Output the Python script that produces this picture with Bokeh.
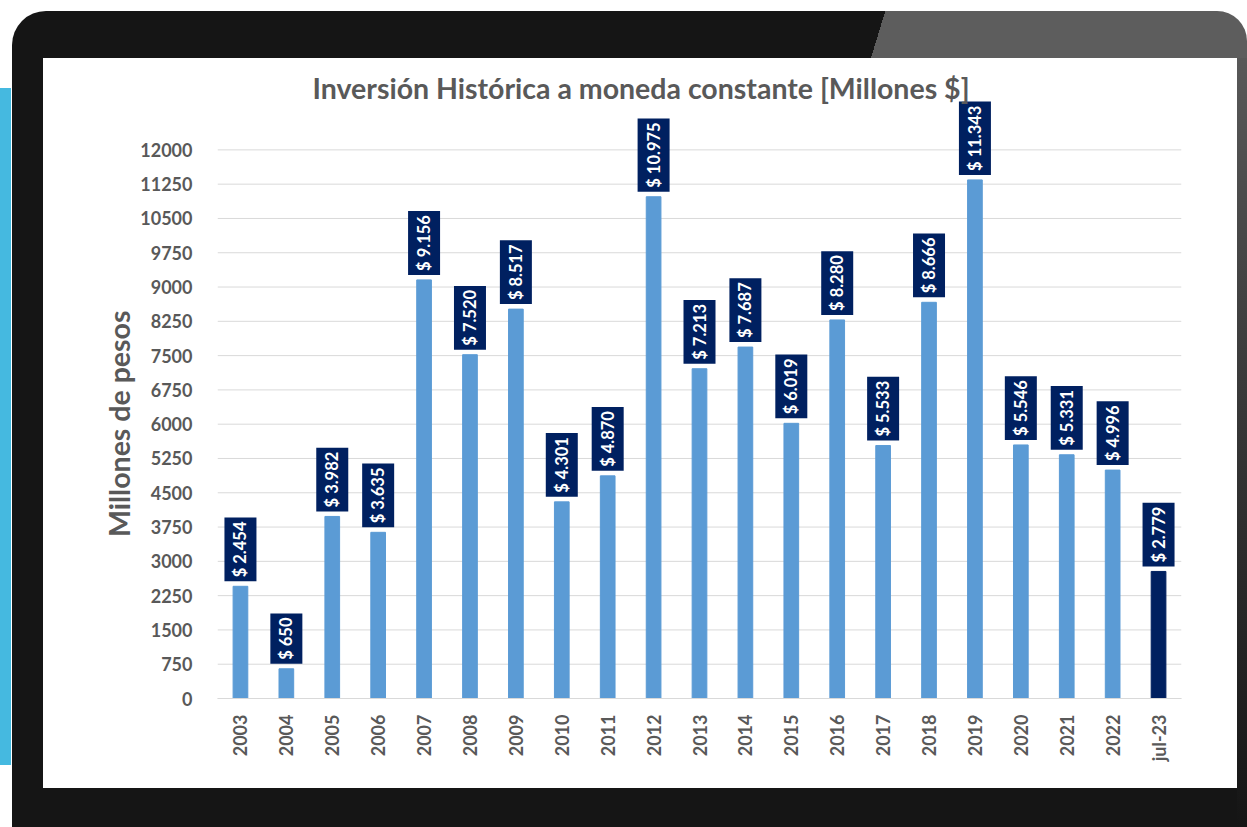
import math
from bokeh.plotting import figure
from bokeh.models import FixedTicker, ColumnDataSource, Span
from bokeh.layouts import column
from bokeh.embed import file_html
from bokeh.resources import INLINE
from bokeh.core.properties import value

categories = ["2003", "2004", "2005", "2006", "2007", "2008", "2009", "2010",
              "2011", "2012", "2013", "2014", "2015", "2016", "2017", "2018",
              "2019", "2020", "2021", "2022", "jul-23"]
values = [2454, 650, 3982, 3635, 9156, 7520, 8517, 4301, 4870, 10975, 7213,
          7687, 6019, 8280, 5533, 8666, 11343, 5546, 5331, 4996, 2779]
labels = ["$ 2.454", "$ 650", "$ 3.982", "$ 3.635", "$ 9.156", "$ 7.520",
          "$ 8.517", "$ 4.301", "$ 4.870", "$ 10.975", "$ 7.213", "$ 7.687",
          "$ 6.019", "$ 8.280", "$ 5.533", "$ 8.666", "$ 11.343", "$ 5.546",
          "$ 5.331", "$ 4.996", "$ 2.779"]
bar_colors = ["#5B9BD5"] * 20 + ["#002060"]
y_ticks = list(range(0, 12001, 750))

FONT = "Lato"
GREY = "#595959"
GRID = "#D9D9D9"

src = ColumnDataSource(dict(cat=categories, val=values, label=labels, color=bar_colors))

p = figure(x_range=categories, y_range=(0, 13080), width=1194, height=730,
           output_backend="svg", toolbar_location=None,
           min_border_left=174, min_border_right=56, min_border_bottom=90,
           min_border_top=42,
           title="Inversión Histórica a moneda constante [Millones $]")
p.outline_line_color = None
p.background_fill_color = "white"
p.border_fill_color = "white"
p.styles = {"background-color": "#ffffff"}

p.title.text_font = FONT
p.title.text_font_size = "28.5px"
p.title.text_font_style = "bold"
p.title.text_color = GREY
p.title.align = "left"
p.title.offset = 95
p.title.standoff = -9

p.yaxis.ticker = FixedTicker(ticks=y_ticks)
p.yaxis.axis_line_color = None
p.yaxis.major_tick_line_color = None
p.yaxis.minor_tick_line_color = None
p.yaxis.major_label_text_font = FONT
p.yaxis.major_label_text_font_size = "18px"
p.yaxis.major_label_text_font_style = "bold"
p.yaxis.major_label_text_color = GREY
p.yaxis.major_label_standoff = 19
# trailing no-break spaces centre the label on the 0-12000 span of the axis
p.yaxis.axis_label = "Millones de pesos" + "\u00a0" * 7
p.yaxis.axis_label_text_font = FONT
p.yaxis.axis_label_text_font_size = "28.5px"
p.yaxis.axis_label_text_font_style = "bold"
p.yaxis.axis_label_text_color = GREY
p.yaxis.axis_label_standoff = 1

p.xaxis.major_label_orientation = math.pi / 2
p.xaxis.axis_line_color = GRID
p.xaxis.major_tick_line_color = None
p.xaxis.minor_tick_line_color = None
p.xaxis.major_label_text_font = FONT
p.xaxis.major_label_text_font_size = "18px"
p.xaxis.major_label_text_font_style = "bold"
p.xaxis.major_label_text_color = GREY
p.xaxis.major_label_standoff = 10

p.xgrid.grid_line_color = None
p.ygrid.grid_line_color = None
for t in y_ticks:
    p.add_layout(Span(location=t, dimension="width", line_color=GRID,
                      line_width=1, level="underlay"))

p.vbar(x="cat", top="val", width=0.32, color="color", source=src)
p.text(x="cat", y="val", text="label", angle=math.pi / 2,
       text_align="left", text_baseline="middle", y_offset=-5,
       text_color="white", text_font=value(FONT), text_font_style="bold",
       text_font_size="16.5px", background_fill_color="#002060", padding=(4, 6),
       source=src)

p.margin = (47, 10, 39, 31)
bezel = column(p, margin=(11, 0, 0, 12), styles={
    "background": ("linear-gradient(107deg, rgba(0,0,0,0) 69.9%, #5d5d5d 69.9%) top left / 100% 47px no-repeat, "
                   "linear-gradient(#5d5d5d, #3a3a3a 45%, #151515) right top / 10px 100% no-repeat, #151515"),
    "border-radius": "34px 30px 0 0",
})
page = column(bezel, styles={
    "background": "linear-gradient(#45b9e0, #45b9e0) 0 88px / 11px 677px no-repeat, #ffffff",
})

open("out.html", "w").write(file_html(page, INLINE))
